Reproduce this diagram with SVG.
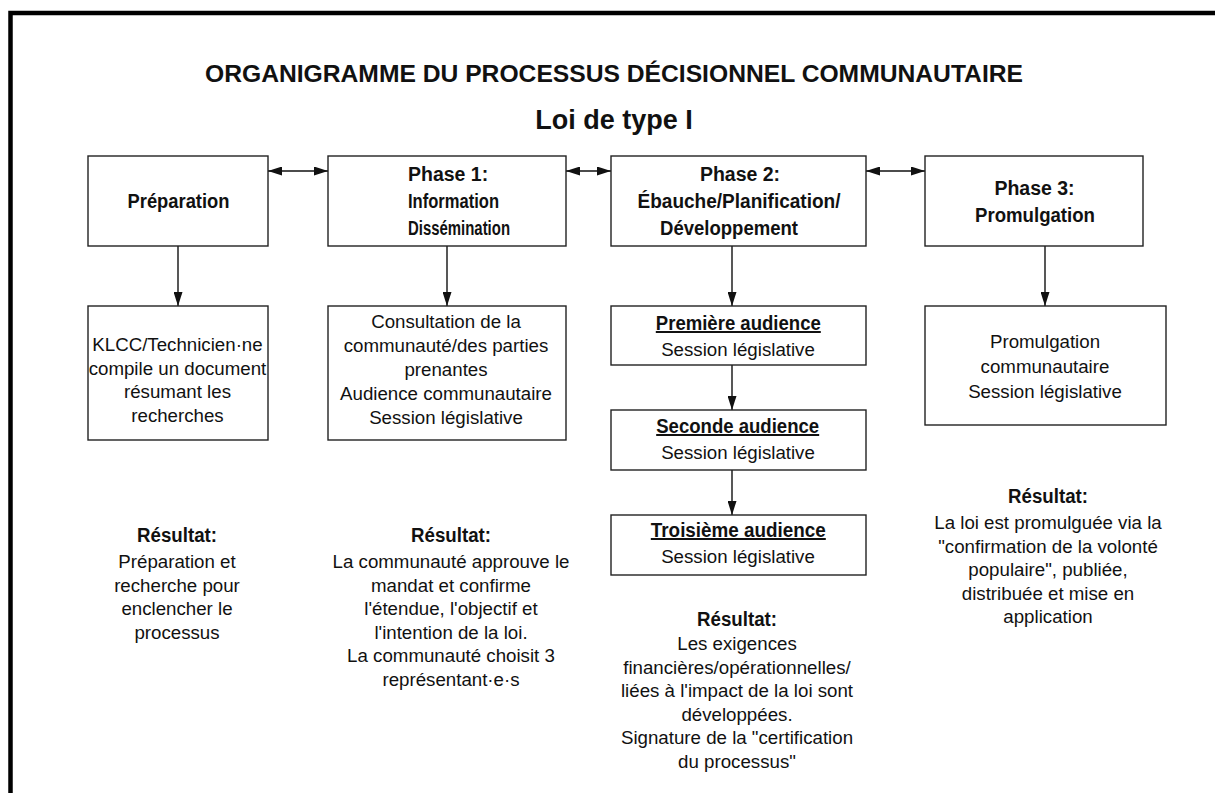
<svg xmlns="http://www.w3.org/2000/svg" width="1215" height="793" viewBox="0 0 1215 793">
<defs>
<style>
.box{fill:#fff;stroke:#222;stroke-width:1.4}
.t{font-family:"Liberation Sans",Arial,sans-serif;font-size:18.7px;fill:#111;text-anchor:middle}
.b{font-family:"Liberation Sans",Arial,sans-serif;font-weight:bold;font-size:19.5px;fill:#111;text-anchor:middle}
.n{font-family:"Liberation Sans Narrow","Liberation Sans",Arial,sans-serif;font-weight:bold;font-size:20px;fill:#111;text-anchor:middle}
.u{text-decoration:underline}
.c{stroke:#111;stroke-width:1.4;fill:none}
</style>
<marker id="ah" viewBox="0 0 14 9" refX="14" refY="4.5" markerWidth="14" markerHeight="9" markerUnits="userSpaceOnUse" orient="auto-start-reverse">
<path d="M0,0 L14,4.5 L0,9 z" fill="#111"/>
</marker>
</defs>
<rect width="1215" height="793" fill="#fff"/>
<path d="M10.5,793 V13 H1215" fill="none" stroke="#000" stroke-width="4.5"/>
<g id="title">
<text x="614" y="82" font-family="Liberation Sans,Arial,sans-serif" font-weight="bold" font-size="24" text-anchor="middle" fill="#111" textLength="818" lengthAdjust="spacingAndGlyphs">ORGANIGRAMME DU PROCESSUS DÉCISIONNEL COMMUNAUTAIRE</text>
<text x="614" y="129" font-family="Liberation Sans,Arial,sans-serif" font-weight="bold" font-size="27" text-anchor="middle" fill="#111">Loi de type I</text>
</g>
<g id="connectors">
<line class="c" x1="268" y1="171" x2="328" y2="171" marker-start="url(#ah)" marker-end="url(#ah)"/>
<line class="c" x1="566" y1="171" x2="611" y2="171" marker-start="url(#ah)" marker-end="url(#ah)"/>
<line class="c" x1="866" y1="171" x2="925" y2="171" marker-start="url(#ah)" marker-end="url(#ah)"/>
<line class="c" x1="178" y1="246" x2="178" y2="306" marker-end="url(#ah)"/>
<line class="c" x1="447" y1="246" x2="447" y2="306" marker-end="url(#ah)"/>
<line class="c" x1="732" y1="246" x2="732" y2="306" marker-end="url(#ah)"/>
<line class="c" x1="1045" y1="246" x2="1045" y2="306" marker-end="url(#ah)"/>
<line class="c" x1="732" y1="365" x2="732" y2="410" marker-end="url(#ah)"/>
<line class="c" x1="732" y1="470" x2="732" y2="515" marker-end="url(#ah)"/>
</g>
<g id="preparation">
<rect class="box" x="88" y="156" width="180" height="90"/>
<text class="n" x="178.5" y="208.3" font-size="21.5" textLength="102" lengthAdjust="spacingAndGlyphs">Préparation</text>
</g>
<g id="phase1">
<rect class="box" x="328" y="156" width="238" height="90"/>
<text class="b" x="408" y="180.7" style="text-anchor:start">Phase 1:</text>
<text class="n" x="408" y="208.3" style="text-anchor:start" textLength="91" lengthAdjust="spacingAndGlyphs">Information</text>
<text class="n" x="408" y="235" style="text-anchor:start" textLength="102" lengthAdjust="spacingAndGlyphs">Dissémination</text>
</g>
<g id="phase2">
<rect class="box" x="611" y="156" width="255" height="90"/>
<text class="b" x="740" y="180.7">Phase 2:</text>
<text class="n" x="739" y="208.3" textLength="203" lengthAdjust="spacingAndGlyphs">Ébauche/Planification/</text>
<text class="n" x="729" y="235" textLength="138" lengthAdjust="spacingAndGlyphs">Développement</text>
</g>
<g id="phase3">
<rect class="box" x="925" y="156" width="218" height="90"/>
<text class="b" x="1034.5" y="195">Phase 3:</text>
<text class="n" x="1035" y="221.7" textLength="120" lengthAdjust="spacingAndGlyphs">Promulgation</text>
</g>
<g id="klcc">
<rect class="box" x="88" y="306" width="180" height="134"/>
<text class="t" x="177.5" y="351">KLCC/Technicien·ne</text>
<text class="t" x="177.5" y="374.5">compile un document</text>
<text class="t" x="177.5" y="398">résumant les</text>
<text class="t" x="177.5" y="421.5">recherches</text>
</g>
<g id="consultation">
<rect class="box" x="328" y="306" width="238" height="134"/>
<text class="t" x="446" y="328">Consultation de la</text>
<text class="t" x="446" y="352">communauté/des parties</text>
<text class="t" x="446" y="376">prenantes</text>
<text class="t" x="446" y="400">Audience communautaire</text>
<text class="t" x="446" y="424">Session législative</text>
</g>
<g id="audience1">
<rect class="box" x="611" y="306" width="255" height="59"/>
<text class="n u" x="738.3" y="330" textLength="165" lengthAdjust="spacingAndGlyphs">Première audience</text>
<text class="t" x="738" y="356">Session législative</text>
</g>
<g id="audience2">
<rect class="box" x="611" y="410" width="255" height="60"/>
<text class="n u" x="737.7" y="433" textLength="163" lengthAdjust="spacingAndGlyphs">Seconde audience</text>
<text class="t" x="738" y="459">Session législative</text>
</g>
<g id="audience3">
<rect class="box" x="611" y="515" width="255" height="60"/>
<text class="n u" x="738.3" y="537" textLength="175" lengthAdjust="spacingAndGlyphs">Troisième audience</text>
<text class="t" x="738" y="563">Session législative</text>
</g>
<g id="promulgation">
<rect class="box" x="925" y="306" width="241" height="119"/>
<text class="t" x="1045" y="348">Promulgation</text>
<text class="t" x="1045" y="373">communautaire</text>
<text class="t" x="1045" y="398">Session législative</text>
</g>
<g id="result1">
<text class="n" x="177" y="542" textLength="80" lengthAdjust="spacingAndGlyphs">Résultat:</text>
<text class="t" x="177" y="568">Préparation et</text>
<text class="t" x="177" y="591.5">recherche pour</text>
<text class="t" x="177" y="615">enclencher le</text>
<text class="t" x="177" y="638.5">processus</text>
</g>
<g id="result2">
<text class="n" x="451" y="542" textLength="80" lengthAdjust="spacingAndGlyphs">Résultat:</text>
<text class="t" x="451" y="568">La communauté approuve le</text>
<text class="t" x="451" y="591.5">mandat et confirme</text>
<text class="t" x="451" y="615">l'étendue, l'objectif et</text>
<text class="t" x="451" y="638.5">l'intention de la loi.</text>
<text class="t" x="451" y="662">La communauté choisit 3</text>
<text class="t" x="451" y="685.5">représentant·e·s</text>
</g>
<g id="result3">
<text class="n" x="737" y="626" textLength="80" lengthAdjust="spacingAndGlyphs">Résultat:</text>
<text class="t" x="737" y="650">Les exigences</text>
<text class="t" x="737" y="673.5">financières/opérationnelles/</text>
<text class="t" x="737" y="697">liées à l'impact de la loi sont</text>
<text class="t" x="737" y="720.5">développées.</text>
<text class="t" x="737" y="744">Signature de la "certification</text>
<text class="t" x="737" y="767.5">du processus"</text>
</g>
<g id="result4">
<text class="n" x="1048" y="503" textLength="80" lengthAdjust="spacingAndGlyphs">Résultat:</text>
<text class="t" x="1048" y="529">La loi est promulguée via la</text>
<text class="t" x="1048" y="552.5">"confirmation de la volonté</text>
<text class="t" x="1048" y="576">populaire", publiée,</text>
<text class="t" x="1048" y="599.5">distribuée et mise en</text>
<text class="t" x="1048" y="623">application</text>
</g>
</svg>
